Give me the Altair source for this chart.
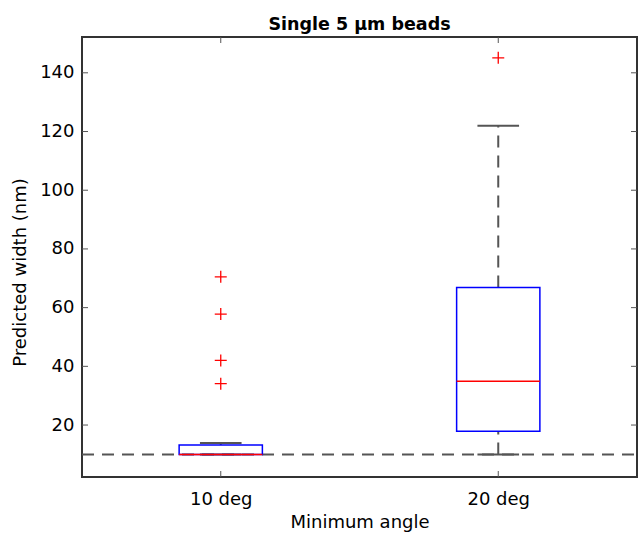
import altair as alt
import pandas as pd

# ---- data ----
categories = ["10 deg", "20 deg"]
positions = [1, 2]
q1 = [10.0, 17.9]
median = [10.0, 34.9]
q3 = [13.2, 66.9]
whisker_low = [10.0, 10.0]
whisker_high = [13.9, 122.0]
outlier_group = [1, 1, 1, 1, 2]
outlier_values = [70.5, 57.8, 42.0, 34.1, 145.1]
reference_value = [10.0]
y_ticks = [20, 40, 60, 80, 100, 120, 140]
y_domain = [2.3, 152.2]
x_domain = [0.5, 2.5]

# ---- style ----
W, H = 555, 440
BOX_HALF = 0.15
CAP_HALF = 0.075
FONT = "DejaVu Sans"
FS = 18
GRAY = "#555555"
TICK = 6

stats = pd.DataFrame({
    "cat": categories, "pos": positions, "q1": q1, "median": median,
    "q3": q3, "wlo": whisker_low, "whi": whisker_high,
})
stats["left"] = stats["pos"] - BOX_HALF
stats["right"] = stats["pos"] + BOX_HALF
stats["cl"] = stats["pos"] - CAP_HALF
stats["cr"] = stats["pos"] + CAP_HALF

outliers = pd.DataFrame({"pos": outlier_group, "value": outlier_values})
ref = pd.DataFrame({"value": reference_value})
yt = pd.DataFrame({"v": y_ticks})
xt = pd.DataFrame({"p": positions})

xs = alt.Scale(domain=x_domain, nice=False, zero=False)
ys = alt.Scale(domain=y_domain, nice=False, zero=False)

label_expr = f"{categories!r}[datum.value - 1]"

X_AX = alt.Axis(values=positions, labelExpr=label_expr, ticks=False, tickSize=0,
                domain=False, grid=False, labelPadding=27, labelBaseline="alphabetic",
                labelFont=FONT, labelFontSize=FS, labelColor="black",
                title="Minimum angle", titleFont=FONT, titleFontSize=FS,
                titleFontWeight="normal", titleColor="black",
                titleY=50, titleBaseline="alphabetic")
Y_AX = alt.Axis(values=y_ticks, ticks=False, tickSize=0, domain=False, grid=False,
                labelPadding=8, labelFont=FONT, labelFontSize=FS, labelColor="black",
                title="Predicted width (nm)", titleFont=FONT, titleFontSize=FS,
                titleFontWeight="normal", titleColor="black",
                titleX=-57, titleY=235, titleBaseline="alphabetic")


def X(f):
    return alt.X(f, scale=xs, axis=X_AX)


def Y(f):
    return alt.Y(f, scale=ys, axis=Y_AX)


base = alt.Chart(stats)

ref_line = alt.Chart(ref).mark_rule(color=GRAY, strokeWidth=2, strokeDash=[12, 8]).encode(
    y=Y("value:Q"), x=alt.value(0), x2=alt.value(W))

upper_whisker = base.mark_rule(color=GRAY, strokeWidth=2, strokeDash=[12, 8]).encode(
    x=X("pos:Q"), y=Y("q3:Q"), y2="whi:Q")
lower_whisker = base.mark_rule(color=GRAY, strokeWidth=2, strokeDash=[12, 8]).encode(
    x=X("pos:Q"), y=Y("wlo:Q"), y2="q1:Q")
upper_cap = base.mark_rule(color=GRAY, strokeWidth=2).encode(
    x=X("cl:Q"), x2="cr:Q", y=Y("whi:Q"))
lower_cap = base.mark_rule(color=GRAY, strokeWidth=2).encode(
    x=X("cl:Q"), x2="cr:Q", y=Y("wlo:Q"))
box = base.mark_rect(fillOpacity=0, stroke="#0000ff", strokeWidth=1.5).encode(
    x=X("left:Q"), x2="right:Q", y=Y("q1:Q"), y2="q3:Q")
med = base.mark_rule(color="#ff0000", strokeWidth=1.5).encode(
    x=X("left:Q"), x2="right:Q", y=Y("median:Q"))
outl = alt.Chart(outliers).mark_point(
    shape="M-1,0L1,0M0,-1L0,1", size=144, filled=False, color="#ff0000",
    strokeWidth=1.3, opacity=1).encode(x=X("pos:Q"), y=Y("value:Q"))

ytl = alt.Chart(yt).mark_rule(color=GRAY, strokeWidth=1).encode(
    y=Y("v:Q"), x=alt.value(0), x2=alt.value(TICK))
ytr = alt.Chart(yt).mark_rule(color=GRAY, strokeWidth=1).encode(
    y=Y("v:Q"), x=alt.value(W - TICK), x2=alt.value(W))
xtb = alt.Chart(xt).mark_rule(color=GRAY, strokeWidth=1).encode(
    x=X("p:Q"), y=alt.value(H - TICK), y2=alt.value(H))
xtt = alt.Chart(xt).mark_rule(color=GRAY, strokeWidth=1).encode(
    x=X("p:Q"), y=alt.value(0), y2=alt.value(TICK))

chart = alt.layer(
    ref_line, upper_whisker, lower_whisker, upper_cap, lower_cap, box, med, outl,
    ytl, ytr, xtb, xtt,
).properties(
    width=W, height=H,
    title=alt.TitleParams("Single 5 μm beads", font=FONT, fontSize=17.5,
                          fontWeight="bold", color="black", baseline="alphabetic",
                          offset=8, dy=19, anchor="middle"),
    padding={"left": 82, "top": 37, "right": 2, "bottom": 56},
    autosize="none",
    view=alt.ViewBackground(stroke="#333333", strokeWidth=2),
).configure_view(stroke="#333333", strokeWidth=2).configure(background="white")

chart.save("out.html", embed_options={"renderer": "svg", "actions": False})
